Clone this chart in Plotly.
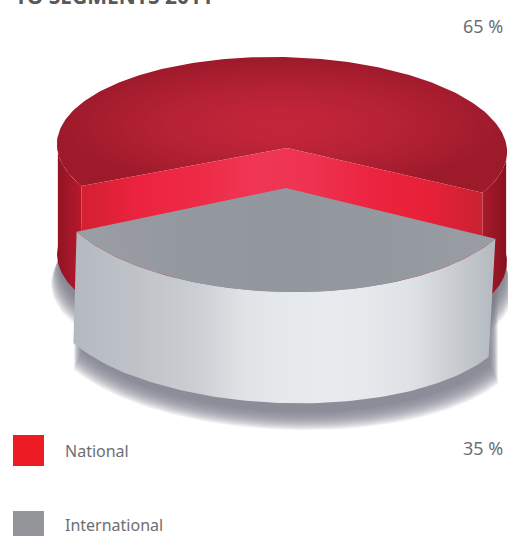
import numpy as np
import plotly.graph_objects as go

# Revenue split shown as an exploded 3D pie
categories = ["National", "International"]
shares = [65, 35]
share_labels = ["65 %", "35 %"]
title_text = "TO SEGMENTS 2011"
swatch_colors = ["#ed1c24", "#939598"]

W, H = 508, 536
TEXT = "#6d6e71"
FONT = "Noto Sans"

# Projected ellipse of each disc: top face and base
red_top = dict(cx=282, cy=148, a=225, b=91, skew=0.0167)
red_base = dict(cx=282, cy=258, a=225, b=91, skew=0.0167)
grey_top = dict(cx=286, cy=188, a=235, b=104, skew=0.0167)
grey_base = dict(cx=281, cy=306, a=233, b=97, skew=0.0336)

# The smaller slice faces the viewer
span = shares[1] / sum(shares) * 360
start, end = 90 - span / 2, 90 + span / 2


def arc(e, t0, t1, n=90, da=0, dy=0, dx0=0):
    t = np.radians(np.linspace(t0, t1, n))
    dx = (e["a"] + da) * np.cos(t)
    return e["cx"] + dx0 + dx, e["cy"] + dy + e["b"] * np.sin(t) + e["skew"] * dx


fig = go.Figure()


def poly(x, y, stops=None, kind="horizontal", x0=None, x1=None, color=None, opacity=1):
    x, y = list(x), list(y)
    kw = dict(x=x + x[:1], y=y + y[:1], mode="lines", fill="toself", line=dict(width=0),
              hoverinfo="skip", showlegend=False, opacity=opacity)
    if stops:
        scale = [[i / (len(stops) - 1), c] for i, c in enumerate(stops)]
        grad = dict(type=kind, colorscale=scale)
        if x0 is not None:
            grad.update(start=x0, stop=x1)
        kw["fillgradient"] = grad
    else:
        kw["fillcolor"] = color
    fig.add_trace(go.Scatter(**kw))


# Soft cast shadows, built from stacked translucent layers
layers = 26
for k in range(layers):
    f = k / (layers - 1)
    x, y = arc(red_base, 0, 360, n=120, da=6 - 9 * f, dy=30 - 22 * f)
    poly(x, y, color="#777d86", opacity=0.065)
for k in range(layers):
    f = k / (layers - 1)
    xb, yb = arc(grey_base, start, end, n=120, da=5 - 10 * f, dy=27 - 19 * f, dx0=5)
    poly(np.r_[xb, xb[-1], xb[0]], np.r_[yb, 240, 240], color="#7b818a", opacity=0.07)

# Red slice: outer wall on both sides
red_end_l, red_end_r = end, start
for t0, t1, stops in [(red_end_l, 185, ["#8f1422", "#a3162a", "#b8182c"]),
                      (-5, red_end_r, ["#a81a2b", "#981625", "#861220"])]:
    xt, yt = arc(red_top, t0, t1, 40)
    xb, yb = arc(red_base, t1, t0, 40)
    poly(np.r_[xt, xb], np.r_[yt, yb], stops=stops)

# Red slice: top face
xa, ya = arc(red_top, end, 360 + start, 200)
apex_x, apex_y = red_top["cx"] + 5, red_top["cy"]
poly(np.r_[apex_x, xa], np.r_[apex_y, ya],
     stops=["#c4263a", "#bf2438", "#b62236", "#aa1e30", "#9c1a2a"], kind="radial")

# Red slice: the two bright cut faces
cut_h = red_base["cy"] - red_top["cy"]
xl, yl = xa[0], ya[0]
xr, yr = xa[-1], ya[-1]
poly([xl, apex_x, xr, xr, apex_x, xl],
     [yl, apex_y, yr, yr + cut_h, apex_y + cut_h, yl + cut_h],
     stops=["#d4202f", "#ec2340", "#ee2a46", "#ef3653", "#ee3350", "#ec2440", "#e82038", "#c92232"],
     x0=xl, x1=xr)

# Grey slice: outer wall, then top face
xt, yt = arc(grey_top, start, end)
xb, yb = arc(grey_base, end, start)
poly(np.r_[xt, xb], np.r_[yt, yb],
     stops=["#b4b9c0", "#bbc0c6", "#c3c6cb", "#cccfd3", "#e0e3e6", "#e6e9ec",
            "#e8ebee", "#e6e9ec", "#dee1e5", "#c9cdd2", "#b3b8bf"],
     x0=73, x1=497)
poly(np.r_[grey_top["cx"], xt], np.r_[grey_top["cy"], yt],
     stops=["#9b9ea4", "#94989f", "#92969d", "#94989f", "#9a9da4"], x0=76, x1=497)

# Legend swatches and labels
fig.add_trace(go.Scatter(x=[28.5, 28.5], y=[450.5, 526.5], mode="markers", hoverinfo="skip", showlegend=False,
                         marker=dict(symbol="square", size=31, color=swatch_colors, line=dict(width=0))))

for name, yy in zip(categories, [450.5, 524.5]):
    fig.add_annotation(x=63, y=yy, text=name, showarrow=False, xanchor="left", yanchor="middle",
                       font=dict(family=FONT, size=16, color=TEXT))
for lab, yy in zip(share_labels, [26, 448]):
    fig.add_annotation(x=505, y=yy, text=lab, showarrow=False, xanchor="right", yanchor="middle",
                       font=dict(family=FONT, size=18, color=TEXT))
# The heading runs off the top edge of the page
fig.add_annotation(x=13, y=12, text=f"<b>{title_text}</b>", showarrow=False, xanchor="left", yanchor="bottom",
                   font=dict(family=FONT, size=21, color="#58595b"))

fig.update_layout(
    width=W, height=H, autosize=False, margin=dict(l=0, r=0, t=0, b=0),
    paper_bgcolor="white", plot_bgcolor="white",
    xaxis=dict(range=[0, W], visible=False, fixedrange=True),
    yaxis=dict(range=[H, 0], visible=False, fixedrange=True),
)
fig.write_html("out.html", config=dict(displayModeBar=False))
